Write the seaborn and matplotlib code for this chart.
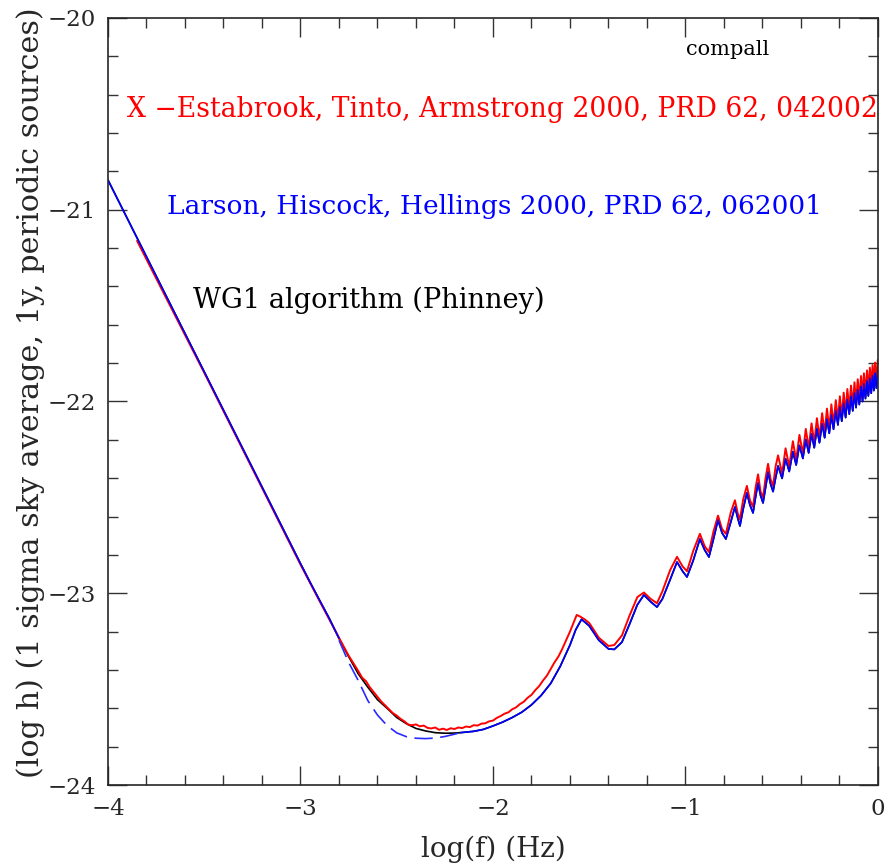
import matplotlib
matplotlib.use("Agg")
import matplotlib.pyplot as plt
import seaborn as sns
import pandas as pd
import numpy as np
from matplotlib.ticker import MultipleLocator

# WG1 algorithm (black): low-frequency arm and bucket, log10 f vs log10 h
low_x = [-4.0, -3.5, -3.0, -2.95, -2.90, -2.85, -2.80, -2.75, -2.70, -2.65, -2.60,
         -2.55, -2.50, -2.45, -2.40, -2.35, -2.30, -2.25, -2.20, -2.17, -2.10,
         -2.05, -2.00, -1.95, -1.90, -1.85, -1.80, -1.75, -1.70, -1.65, -1.60,
         -1.57, -1.54]
black_low_y = [-20.845, -21.845, -22.845, -22.943, -23.038, -23.132, -23.235, -23.33,
               -23.42, -23.49, -23.555, -23.60, -23.648, -23.68, -23.705, -23.718,
               -23.727, -23.730, -23.729, -23.727, -23.72, -23.71, -23.692, -23.672,
               -23.648, -23.62, -23.582, -23.533, -23.47, -23.38, -23.27, -23.19,
               -23.136]

# first resonance lobes
mid_x = [-1.50, -1.45, -1.40, -1.37, -1.33, -1.29, -1.25, -1.216, -1.18, -1.148,
         -1.12, -1.08, -1.044, -1.015, -0.992, -0.96, -0.925, -0.90, -0.878, -0.855,
         -0.831, -0.81, -0.790, -0.765, -0.743, -0.728, -0.717, -0.700, -0.681, -0.665,
         -0.649, -0.636, -0.623, -0.610, -0.597, -0.584, -0.571, -0.558, -0.545, -0.532]
black_mid_y = [-23.17, -23.245, -23.29, -23.293, -23.255, -23.16, -23.06, -23.009, -23.045, -23.072,
               -23.03, -22.93, -22.837, -22.885, -22.915, -22.83, -22.717, -22.775, -22.811, -22.72,
               -22.618, -22.685, -22.717, -22.63, -22.550, -22.61, -22.649, -22.56, -22.477, -22.54,
               -22.581, -22.50, -22.425, -22.49, -22.529, -22.45, -22.368, -22.43, -22.470, -22.40]
red_mid_y = [-23.155, -23.232, -23.275, -23.27, -23.22, -23.115, -23.02, -22.996, -23.03, -23.052,
             -22.99, -22.88, -22.81, -22.86, -22.885, -22.78, -22.69, -22.755, -22.785, -22.68,
             -22.595, -22.665, -22.69, -22.58, -22.515, -22.585, -22.615, -22.51, -22.44, -22.515,
             -22.55, -22.45, -22.38, -22.47, -22.50, -22.40, -22.325, -22.405, -22.44, -22.34]

# dense high-frequency wiggles (peak / trough pairs)
hf_x = [-0.519, -0.498, -0.480, -0.461, -0.442, -0.425, -0.408, -0.390, -0.375, -0.360,
        -0.345, -0.331, -0.317, -0.304, -0.290, -0.277, -0.265, -0.253, -0.242, -0.231,
        -0.219, -0.208, -0.198, -0.188, -0.178, -0.168, -0.159, -0.149, -0.140, -0.131,
        -0.122, -0.114, -0.105, -0.097, -0.088, -0.080, -0.073, -0.065, -0.057, -0.050,
        -0.042, -0.035, -0.028, -0.021, -0.015, -0.008, -0.001]
black_hf_y = [-22.336, -22.401, -22.299, -22.365, -22.262, -22.331, -22.229, -22.297, -22.198, -22.268,
              -22.169, -22.241, -22.142, -22.215, -22.116, -22.189, -22.092, -22.166, -22.070, -22.145,
              -22.048, -22.122, -22.028, -22.103, -22.009, -22.084, -21.990, -22.066, -21.972, -22.049,
              -21.955, -22.032, -21.939, -22.016, -21.922, -22.000, -21.908, -21.985, -21.893, -21.971,
              -21.879, -21.957, -21.865, -21.943, -21.852, -21.931, -21.839]
red_hf_y = [-22.281, -22.376, -22.244, -22.340, -22.207, -22.306, -22.174, -22.272, -22.143, -22.243,
            -22.114, -22.216, -22.087, -22.190, -22.061, -22.164, -22.037, -22.141, -22.015, -22.120,
            -21.993, -22.097, -21.973, -22.078, -21.954, -22.059, -21.935, -22.041, -21.917, -22.024,
            -21.900, -22.007, -21.884, -21.991, -21.867, -21.975, -21.853, -21.960, -21.838, -21.946,
            -21.824, -21.932, -21.810, -21.918, -21.797, -21.906, -21.784]

# Estabrook, Tinto, Armstrong (red): low-frequency arm and noisy bucket
red_low_x = [-3.849, -3.5, -3.0, -2.9, -2.8, -2.75, -2.70, -2.68, -2.66, -2.64,
             -2.62, -2.60, -2.58, -2.55, -2.52, -2.50, -2.48, -2.46, -2.44, -2.42,
             -2.40, -2.38, -2.36, -2.34, -2.32, -2.30, -2.28, -2.26, -2.24, -2.22,
             -2.20, -2.18, -2.16, -2.14, -2.12, -2.10, -2.08, -2.06, -2.04, -2.02,
             -2.00, -1.98, -1.96, -1.94, -1.92, -1.90, -1.88, -1.86, -1.84, -1.82,
             -1.80, -1.78, -1.76, -1.74, -1.72, -1.70, -1.68, -1.66, -1.64, -1.62,
             -1.60, -1.58, -1.565, -1.55, -1.525]
red_low_y = [-21.162, -21.85, -22.85, -23.042, -23.232, -23.325, -23.405, -23.44, -23.458, -23.49,
             -23.515, -23.54, -23.565, -23.595, -23.625, -23.638, -23.655, -23.668, -23.685, -23.688,
             -23.684, -23.694, -23.690, -23.702, -23.705, -23.700, -23.712, -23.706, -23.713, -23.704,
             -23.708, -23.700, -23.703, -23.695, -23.698, -23.688, -23.690, -23.680, -23.678, -23.668,
             -23.664, -23.650, -23.640, -23.628, -23.621, -23.605, -23.595, -23.578, -23.566, -23.545,
             -23.530, -23.505, -23.484, -23.455, -23.43, -23.395, -23.36, -23.33, -23.29, -23.245,
             -23.20, -23.15, -23.113, -23.12, -23.135]

# Larson, Hiscock, Hellings (blue): dashed part through the bucket,
# elsewhere it runs on top of the black curve
blue_dip_x = [-2.80, -2.75, -2.70, -2.65, -2.60, -2.55, -2.50, -2.45, -2.40, -2.35,
              -2.30, -2.25, -2.20, -2.17]
blue_dip_y = [-23.245, -23.36, -23.455, -23.56, -23.635, -23.69, -23.728, -23.748, -23.756, -23.758,
              -23.755, -23.747, -23.735, -23.727]

black = pd.DataFrame({"x": low_x + mid_x + hf_x, "y": black_low_y + black_mid_y + black_hf_y})
red = pd.DataFrame({"x": red_low_x + mid_x + hf_x, "y": red_low_y + red_mid_y + red_hf_y})
blue_a = black[black["x"] <= -2.80]
blue_b = pd.DataFrame({"x": blue_dip_x, "y": blue_dip_y})
blue_c = black[black["x"] >= -2.17]

sns.set_style("ticks")
plt.rcParams["font.family"] = ["DejaVu Serif"]

fig = plt.figure(figsize=(8.88, 8.68), dpi=100)
ax = fig.add_axes([0.1216, 0.0956, 0.8671, 0.8837])

lw = 1.2
sns.lineplot(data=black, x="x", y="y", sort=False, estimator=None, color="black", lw=lw, ax=ax)
sns.lineplot(data=red, x="x", y="y", sort=False, estimator=None, color="#ff0000", lw=1.4, ax=ax)
sns.lineplot(data=blue_a, x="x", y="y", sort=False, estimator=None, color="#0000ff", lw=lw, ax=ax)
sns.lineplot(data=blue_b, x="x", y="y", sort=False, estimator=None, color="#2a2aff", lw=lw, ax=ax)
ax.lines[-1].set_dashes([11, 4.5])
sns.lineplot(data=blue_c, x="x", y="y", sort=False, estimator=None, color="#0000ff", lw=lw, ax=ax)

ax.set_xlim(-4, 0)
ax.set_ylim(-24, -20)
ax.xaxis.set_major_locator(MultipleLocator(1))
ax.xaxis.set_minor_locator(MultipleLocator(0.2))
ax.yaxis.set_major_locator(MultipleLocator(1))
ax.yaxis.set_minor_locator(MultipleLocator(0.2))
ax.tick_params(which="both", direction="in", top=True, right=True, width=1.0, color="#333333")
ax.tick_params(which="major", length=13.5, labelsize=16.5, pad=9)
ax.tick_params(which="minor", length=7)
for s in ax.spines.values():
    s.set_linewidth(1.2)
    s.set_visible(True)

ax.set_xlabel("log(f) (Hz)", fontsize=20)
ax.set_ylabel("(log h) (1 sigma sky average, 1y, periodic sources)", fontsize=21.8)
ax.xaxis.set_label_coords(0.5, -0.066)
ax.yaxis.set_label_coords(-0.082, 0.511)

ax.text(-0.779, -20.167, "compall", fontsize=15, ha="center", va="center", color="black")
ax.text(-3.901, -20.475, "X \u2212Estabrook, Tinto, Armstrong 2000, PRD 62, 042002",
        fontsize=19.2, ha="left", va="center", color="#ff0000")
ax.text(-3.694, -20.985, "Larson, Hiscock, Hellings 2000, PRD 62, 062001",
        fontsize=19.0, ha="left", va="center", color="#0000ff")
ax.text(-3.558, -21.471, "WG1 algorithm (Phinney)", fontsize=19.6, ha="left", va="center", color="black")

fig.savefig("out.png", dpi=100)
